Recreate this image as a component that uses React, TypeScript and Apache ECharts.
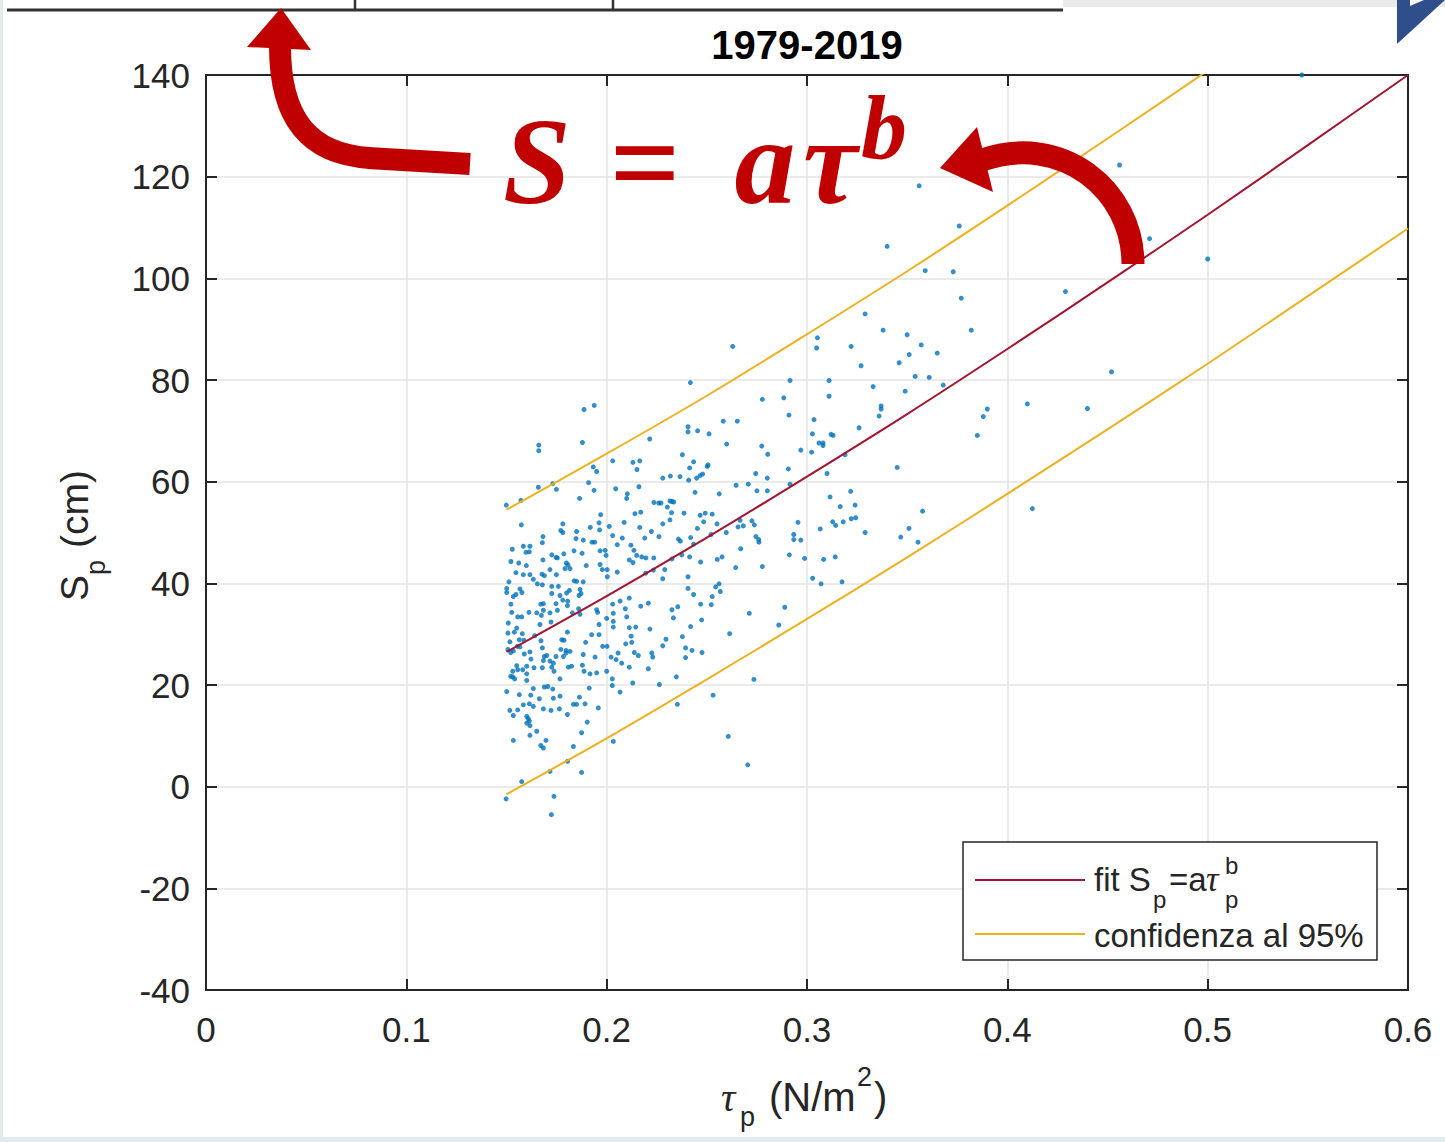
import React, { useEffect, useRef } from "react";
import * as echarts from "echarts";

// ---------- data ----------
const xTickValues = [0, 0.1, 0.2, 0.3, 0.4, 0.5, 0.6];
const yTickValues = [-40, -20, 0, 20, 40, 60, 80, 100, 120, 140];

const fitTau = [0.15, 0.2, 0.25, 0.3, 0.35, 0.4, 0.45, 0.5, 0.55, 0.6];
const fitS = [26.5, 37.5, 49.0, 61.0, 73.3, 86.1, 99.2, 112.5, 126.2, 140.0];
const upperS = [54.5, 65.5, 76.9, 89.0, 101.4, 114.3, 127.5, 140.9, 155.2, 169.5];
const lowerS = [-1.5, 9.5, 21.1, 33.0, 45.1, 57.6, 70.3, 83.2, 96.5, 109.8];

const observations: [number, number][] = [
  [0.547, 140.0],
  [0.456, 122.3], [0.356, 118.2], [0.376, 110.3], [0.340, 106.3], [0.471, 107.8], [0.500, 103.8],
  [0.359, 101.5], [0.373, 101.3], [0.429, 97.4], [0.377, 96.1], [0.329, 93.0], [0.338, 89.8],
  [0.350, 88.9], [0.382, 89.8], [0.322, 86.6], [0.357, 86.9], [0.365, 85.3], [0.351, 85.0],
  [0.346, 83.4], [0.327, 82.8], [0.354, 80.7], [0.361, 80.5], [0.311, 79.9], [0.452, 81.6],
  [0.333, 78.7], [0.368, 79.0], [0.349, 77.8], [0.311, 76.8], [0.337, 74.9], [0.337, 74.3],
  [0.336, 72.9], [0.390, 74.3], [0.388, 72.8], [0.410, 75.3], [0.440, 74.4], [0.326, 70.6],
  [0.312, 69.3], [0.313, 69.1], [0.385, 69.1], [0.308, 67.6], [0.308, 67.1], [0.319, 65.3],
  [0.345, 62.8], [0.310, 61.6],
  [0.3577, 54.2], [0.3509, 50.8], [0.3468, 49.1], [0.3554, 48.1], [0.4125, 54.7],
  [0.2629, 86.6], [0.3052, 88.3], [0.3048, 86.3], [0.2418, 79.5], [0.2915, 79.9],
  [0.2777, 76.2], [0.2884, 76.5], [0.2910, 73.1], [0.2582, 71.9], [0.2652, 71.9], [0.3035, 72.2],
  [0.2406, 70.8], [0.2406, 69.8], [0.2454, 70.0], [0.2511, 69.4], [0.3027, 69.4],
  [0.3060, 67.6], [0.2599, 67.4], [0.2774, 67.0], [0.2378, 65.3], [0.2804, 65.4], [0.2969, 66.2],
  [0.3023, 65.8], [0.2434, 63.9], [0.2506, 63.3], [0.2502, 63.0], [0.2414, 62.7], [0.2907, 62.5],
  [0.2479, 61.5], [0.2466, 61.2], [0.2449, 60.7], [0.2409, 60.3], [0.2318, 61.1], [0.2366, 61.0],
  [0.2280, 60.7], [0.2744, 61.6], [0.2802, 60.7], [0.2646, 59.3], [0.2707, 59.5], [0.2915, 59.5],
  [0.2562, 57.6], [0.2750, 58.2], [0.2802, 58.2], [0.2441, 57.9], [0.3218, 58.1], [0.3115, 57.0],
  [0.2316, 56.2], [0.2326, 56.1], [0.2335, 56.0], [0.2303, 55.0], [0.2271, 55.8],
  [0.2324, 53.9], [0.2386, 53.8], [0.2280, 51.7], [0.2316, 52.5], [0.2467, 53.4], [0.2492, 53.8],
  [0.2527, 53.6], [0.2484, 52.1], [0.2551, 51.7], [0.2666, 52.4], [0.2656, 51.1], [0.2682, 51.3],
  [0.2725, 52.3], [0.2737, 51.5], [0.2453, 50.8], [0.2521, 49.6], [0.2597, 50.0], [0.2745, 49.2],
  [0.2759, 48.6], [0.2760, 48.1], [0.2358, 48.7], [0.2368, 48.3], [0.2419, 49.0], [0.2434, 47.7],
  [0.2955, 52.0], [0.2934, 49.6], [0.2934, 48.6], [0.2969, 48.5], [0.2912, 45.6], [0.2988, 44.9],
  [0.3166, 55.1], [0.3240, 55.4], [0.3128, 52.1], [0.3143, 51.4], [0.3181, 52.1], [0.3221, 52.7],
  [0.3243, 52.9], [0.3066, 50.7], [0.3290, 50.0],
  [0.2326, 44.8], [0.2375, 45.6], [0.2414, 45.2], [0.2469, 44.2], [0.2552, 44.7], [0.2576, 45.2],
  [0.2669, 46.8], [0.2644, 43.1], [0.2777, 43.3], [0.3083, 44.7], [0.3141, 45.2],
  [0.2280, 40.9], [0.2290, 42.7], [0.2406, 41.3], [0.3028, 41.0], [0.3070, 39.9], [0.3175, 40.3],
  [0.2406, 39.0], [0.2434, 37.8], [0.2544, 39.3], [0.2561, 39.9], [0.2567, 38.4], [0.2527, 37.4],
  [0.2522, 35.8], [0.2469, 35.9], [0.2474, 32.8], [0.2419, 31.5], [0.2326, 34.8], [0.2355, 35.4],
  [0.2333, 33.2], [0.2712, 34.1], [0.2889, 35.3], [0.2859, 31.8], [0.2614, 30.1], [0.2378, 29.5],
  [0.2296, 29.0], [0.2280, 27.7], [0.2394, 27.3], [0.2426, 26.8], [0.2476, 26.4], [0.2394, 25.4],
  [0.2348, 21.6], [0.2735, 21.1],
  [0.2531, 18.0], [0.2353, 16.2], [0.2607, 9.9], [0.2704, 4.3],
  [0.1887, 74.2], [0.1938, 75.0], [0.1661, 67.2], [0.1661, 66.1], [0.1879, 67.7], [0.2215, 68.4],
  [0.1933, 62.9], [0.1950, 62.0], [0.2030, 64.1], [0.2131, 63.8], [0.2165, 64.1], [0.2151, 62.4],
  [0.1731, 59.6], [0.1659, 58.9], [0.1749, 58.5], [0.1910, 59.8], [0.1937, 58.3], [0.2045, 58.6],
  [0.2161, 59.0], [0.1499, 55.4], [0.1572, 56.3], [0.1865, 56.7], [0.2103, 57.6], [0.2100, 56.7],
  [0.2236, 55.9], [0.2260, 55.8], [0.1970, 53.5], [0.2141, 53.7], [0.2170, 54.0],
  [0.1574, 51.5], [0.1781, 51.7], [0.1962, 51.9], [0.2013, 51.2], [0.2087, 52.0],
  [0.1771, 50.4], [0.1781, 50.0], [0.1850, 50.2], [0.1918, 51.0], [0.1965, 50.5], [0.2165, 51.0],
  [0.2223, 50.2], [0.1682, 49.2], [0.1679, 48.0], [0.1847, 48.8], [0.1883, 48.5], [0.1927, 48.1],
  [0.1940, 48.1], [0.2030, 49.4], [0.2078, 48.9], [0.2053, 47.6], [0.2121, 47.5], [0.2190, 48.9],
  [0.2261, 49.2], [0.1529, 46.7], [0.1584, 47.3], [0.1597, 46.1], [0.1617, 47.3], [0.1614, 46.2],
  [0.1726, 45.6], [0.1747, 45.1], [0.1786, 45.8], [0.1837, 46.4], [0.1877, 45.9], [0.1967, 46.4],
  [0.1992, 46.5], [0.1997, 45.5], [0.2136, 46.5], [0.2150, 45.5], [0.2175, 45.2], [0.2196, 45.0],
  [0.2235, 45.0], [0.2113, 44.6], [0.2131, 44.1], [0.1522, 44.3], [0.1561, 44.0], [0.1599, 43.5],
  [0.1682, 44.6], [0.1717, 42.7], [0.1754, 45.0], [0.1799, 44.0], [0.1807, 43.6], [0.1792, 42.9],
  [0.1817, 42.9], [0.1898, 43.5], [0.1967, 43.7], [0.1978, 42.7], [0.2002, 42.7],
  [0.1547, 42.1], [0.1584, 41.7], [0.1617, 41.7], [0.1677, 41.8], [0.1689, 41.5], [0.1749, 41.7],
  [0.1634, 40.8], [0.2003, 41.3], [0.2053, 42.2], [0.2195, 42.0], [0.2233, 42.6],
  [0.1512, 40.3], [0.1501, 39.0], [0.1501, 38.2], [0.1567, 38.9], [0.1577, 38.2], [0.1534, 37.4],
  [0.1547, 37.8], [0.1654, 39.9], [0.1679, 39.7], [0.1726, 39.4], [0.1759, 39.4], [0.1726, 38.0],
  [0.1767, 37.6], [0.1800, 38.1], [0.1814, 38.6], [0.1838, 40.5], [0.1850, 40.4], [0.1867, 38.8],
  [0.1872, 38.0], [0.1862, 37.6], [0.1883, 40.3],
  [0.1671, 35.9], [0.1684, 36.0], [0.1747, 36.0], [0.1781, 36.7], [0.1805, 36.5], [0.1522, 35.9],
  [0.1526, 34.3], [0.1576, 33.4], [0.1556, 33.4], [0.1612, 34.3], [0.1651, 34.2], [0.1674, 33.7],
  [0.1684, 34.7], [0.1717, 34.2], [0.1754, 34.7], [0.1804, 35.6], [0.1829, 34.2], [0.1860, 35.0],
  [0.1867, 33.9], [0.1950, 34.8], [0.1955, 34.3], [0.1962, 31.9], [0.2000, 33.1], [0.2030, 35.9],
  [0.2033, 34.1], [0.2033, 32.5], [0.2033, 31.4], [0.2067, 36.5], [0.2093, 35.0], [0.2100, 33.4],
  [0.2113, 37.1], [0.2170, 35.5], [0.2208, 36.1],
  [0.1509, 32.2], [0.1507, 30.2], [0.1517, 28.5], [0.1507, 27.0], [0.1521, 26.4], [0.1534, 26.7],
  [0.1551, 31.2], [0.1539, 30.4], [0.1564, 28.9], [0.1554, 27.6], [0.1567, 27.5], [0.1579, 30.1],
  [0.1587, 28.8], [0.1589, 26.1], [0.1617, 26.5], [0.1622, 25.1], [0.1637, 23.4], [0.1641, 29.7],
  [0.1672, 28.7], [0.1679, 27.3], [0.1689, 25.6], [0.1684, 24.8], [0.1679, 23.4], [0.1701, 25.8],
  [0.1717, 24.7], [0.1726, 23.5], [0.1734, 24.3], [0.1747, 25.6], [0.1737, 22.7], [0.1767, 21.2],
  [0.1776, 28.9], [0.1787, 28.8], [0.1797, 26.8], [0.1797, 26.3], [0.1804, 30.4], [0.1817, 26.6],
  [0.1825, 23.7], [0.1809, 23.5], [0.1784, 25.6], [0.1771, 27.0], [0.1667, 31.9], [0.1722, 32.4],
  [0.1601, 23.7], [0.1581, 23.0], [0.1601, 22.2], [0.1601, 20.9], [0.1531, 22.7], [0.1521, 21.7],
  [0.1531, 21.6], [0.1541, 21.2], [0.1551, 23.8], [0.1556, 23.0],
  [0.1883, 26.0], [0.1887, 22.7], [0.1917, 22.2], [0.1942, 25.5], [0.1950, 22.4], [0.1879, 23.9],
  [0.1913, 19.4], [0.1895, 28.4], [0.1925, 29.9], [0.1962, 29.9], [0.1980, 27.6], [0.2002, 27.6],
  [0.2022, 25.5], [0.2047, 25.0], [0.2000, 22.7], [0.2028, 21.2], [0.2028, 19.9], [0.2067, 18.6],
  [0.2057, 26.3], [0.2075, 24.3], [0.2095, 28.1], [0.2113, 23.5], [0.2125, 28.4], [0.2122, 29.6],
  [0.2113, 31.3], [0.2145, 31.4], [0.2138, 26.4], [0.2158, 25.8], [0.2130, 20.4], [0.2208, 23.2],
  [0.2216, 31.0], [0.2225, 26.3], [0.2230, 25.5], [0.2263, 20.1],
  [0.1501, 18.7], [0.1564, 18.1], [0.1621, 18.0], [0.1634, 19.3], [0.1689, 19.6], [0.1706, 19.7],
  [0.1664, 17.3], [0.1731, 19.2], [0.1767, 17.8], [0.1734, 17.4], [0.1584, 16.1], [0.1614, 16.3],
  [0.1634, 15.8], [0.1684, 15.3], [0.1722, 15.0], [0.1764, 15.3], [0.1804, 14.2], [0.1834, 16.2],
  [0.1850, 16.2], [0.1864, 17.6], [0.1892, 16.3], [0.1958, 15.5],
  [0.1517, 15.0], [0.1534, 14.0], [0.1556, 15.1], [0.1601, 13.8], [0.1609, 13.4], [0.1614, 12.9],
  [0.1601, 12.5], [0.1617, 12.0], [0.1651, 10.9], [0.1617, 10.1], [0.1534, 9.1], [0.1671, 8.1],
  [0.1684, 7.6], [0.1697, 9.1], [0.1903, 12.7], [0.1875, 10.6], [0.1834, 7.9], [0.2033, 8.9],
  [0.1805, 5.0], [0.1717, 3.0], [0.1875, 2.8], [0.1576, 1.0], [0.1498, -2.4], [0.1737, -1.9],
  [0.1724, -5.5],
];

const titleText = "1979-2019";
const legendFitLabel = "fit S";
const legendConfLabel = "confidenza al 95%";

// ---------- styles ----------
const AX = "#262626";
const SANS = "'Liberation Sans', Arial, Helvetica, sans-serif";
const SERIF = "'Liberation Serif', 'Times New Roman', serif";
const RED = "#C00000";
const FIT = "#A2142F";
const CONF = "#EDB120";
const DOT = "#0072BD";

const sans = (size: number, extra = "") => `${extra} ${size}px ${SANS}`.trim();

function buildOption(): any {
  const fitData = fitTau.map((t, i) => [t, fitS[i]]);
  const upData = fitTau.map((t, i) => [t, upperS[i]]);
  const loData = fitTau.map((t, i) => [t, lowerS[i]]);
  const axisCommon = {
    type: "value",
    axisLine: { show: true, onZero: false, lineStyle: { color: AX, width: 2 } },
    axisTick: { show: true, inside: true, length: 11, lineStyle: { color: AX, width: 2 } },
  };
  const xMin = xTickValues[0];
  const xMax = xTickValues[xTickValues.length - 1];
  const yMin = yTickValues[0];
  const yMax = yTickValues[yTickValues.length - 1];

  const txt = (x: number, y: number, text: string, font: string, fill = AX, align = "left", z = 50) => ({
    type: "text",
    x,
    y,
    z,
    style: { text, font, fill, align, verticalAlign: "middle" },
  });

  const graphics: any[] = [
    // page furniture
    { type: "rect", shape: { x: 0, y: 0, width: 3, height: 1142 }, style: { fill: "#e6ebe9" }, z: 1 },
    { type: "rect", shape: { x: 0, y: 1137, width: 1445, height: 5 }, style: { fill: "#e3eaee" }, z: 1 },
    { type: "rect", shape: { x: 1063, y: 0, width: 382, height: 7 }, style: { fill: "#e9ebe7" }, z: 1 },
    { type: "line", shape: { x1: 7, y1: 10, x2: 1063, y2: 10 }, style: { stroke: "#333", lineWidth: 3 }, z: 2 },
    { type: "line", shape: { x1: 355, y1: 0, x2: 355, y2: 10 }, style: { stroke: "#333", lineWidth: 2.5 }, z: 2 },
    { type: "line", shape: { x1: 613, y1: 0, x2: 613, y2: 10 }, style: { stroke: "#333", lineWidth: 2.5 }, z: 2 },
    { type: "polygon", shape: { points: [[1397, 0], [1445, 0], [1397, 44]] }, style: { fill: "#2e4f8c" }, z: 2 },
    { type: "polygon", shape: { points: [[1410, 0], [1424, 0], [1410, 6]] }, style: { fill: "#ffffff" }, z: 3 },
    // title
    txt(807, 45, titleText, sans(40, "bold"), "#000", "center"),
    // y axis name
    {
      type: "group",
      x: 74,
      y: 601,
      rotation: Math.PI / 2,
      children: [
        { type: "text", x: 0, y: 0, style: { text: "S", font: sans(39), fill: AX, align: "left", verticalAlign: "middle" } },
        { type: "text", x: 26, y: 22, style: { text: "p", font: sans(27), fill: AX, align: "left", verticalAlign: "middle" } },
        { type: "text", x: 53, y: 0, style: { text: "(cm)", font: sans(39), fill: AX, align: "left", verticalAlign: "middle" } },
      ],
    },
    // x axis name
    txt(721, 1097, "τ", `italic 40px ${SERIF}`),
    txt(740, 1117, "p", sans(27)),
    txt(769, 1097, "(N/m", sans(40)),
    txt(857, 1077, "2", sans(27)),
    txt(874, 1097, ")", sans(40)),
    // legend
    { type: "rect", z: 60, shape: { x: 963, y: 842, width: 414, height: 118 }, style: { fill: "#fff", stroke: AX, lineWidth: 1.5 } },
    { type: "line", z: 61, shape: { x1: 975, y1: 880, x2: 1085, y2: 880 }, style: { stroke: FIT, lineWidth: 2 } },
    { type: "line", z: 61, shape: { x1: 975, y1: 934, x2: 1085, y2: 934 }, style: { stroke: CONF, lineWidth: 2 } },
    txt(1094, 879, legendFitLabel, sans(33), AX, "left", 62),
    txt(1153, 899, "p", sans(24), AX, "left", 62),
    txt(1169, 879, "=a", sans(33), AX, "left", 62),
    txt(1206, 879, "τ", `italic 35px ${SERIF}`, AX, "left", 62),
    txt(1225, 865, "b", sans(24), AX, "left", 62),
    txt(1225, 899, "p", sans(24), AX, "left", 62),
    txt(1094, 935, legendConfLabel, sans(33), AX, "left", 62),
    // formula annotation
    txt(537, 161, "S", `italic bold 122px ${SERIF}`, RED, "center", 80),
    txt(645, 163, "=", `bold 124px ${SERIF}`, RED, "center", 80),
    txt(765, 161, "a", `italic bold 122px ${SERIF}`, RED, "center", 80),
    txt(830, 161, "τ", `italic bold 122px ${SERIF}`, RED, "center", 80),
    txt(884, 127, "b", `italic bold 92px ${SERIF}`, RED, "center", 80),
    // left arrow
    { type: "line", z: 80, shape: { x1: 470, y1: 164, x2: 368, y2: 158 }, style: { stroke: RED, lineWidth: 22 } },
    {
      type: "bezierCurve",
      z: 80,
      shape: { x1: 370, y1: 158, cpx1: 308, cpy1: 154, cpx2: 280, cpy2: 118, x2: 280, y2: 46 },
      style: { stroke: RED, lineWidth: 22, fill: "none" },
    },
    { type: "polygon", z: 81, shape: { points: [[281, 8], [247, 47], [311, 50]] }, style: { fill: RED } },
    // right arrow
    {
      type: "bezierCurve",
      z: 80,
      shape: { x1: 1133, y1: 264, cpx1: 1133, cpy1: 190, cpx2: 1062, cpy2: 132, x2: 982, y2: 160 },
      style: { stroke: RED, lineWidth: 23, fill: "none" },
    },
    { type: "polygon", z: 81, shape: { points: [[940, 168], [977, 127], [993, 192]] }, style: { fill: RED } },
  ];

  return {
    animation: false,
    backgroundColor: "#ffffff",
    grid: { left: 206, top: 75, width: 1202, height: 915, containLabel: false },
    xAxis: [
      {
        ...axisCommon,
        position: "bottom",
        min: xMin,
        max: xMax,
        interval: 0.1,
        axisLabel: {
          color: AX,
          fontSize: 35,
          fontFamily: SANS,
          margin: 22,
          formatter: (v: number) => (v === 0 ? "0" : v.toFixed(1)),
        },
        splitLine: { show: true, lineStyle: { color: "#e3e3e3", width: 1.5 } },
      },
      {
        ...axisCommon,
        position: "top",
        min: xMin,
        max: xMax,
        interval: 0.1,
        axisLabel: { show: false },
        splitLine: { show: false },
      },
    ],
    yAxis: [
      {
        ...axisCommon,
        position: "left",
        min: yMin,
        max: yMax,
        interval: 20,
        axisLabel: { color: AX, fontSize: 35, fontFamily: SANS, margin: 16 },
        splitLine: { show: true, lineStyle: { color: "#e3e3e3", width: 1.5 } },
      },
      {
        ...axisCommon,
        position: "right",
        min: yMin,
        max: yMax,
        interval: 20,
        axisLabel: { show: false },
        splitLine: { show: false },
      },
    ],
    series: [
      {
        type: "scatter",
        xAxisIndex: 0,
        yAxisIndex: 0,
        data: observations,
        symbol: "circle",
        symbolSize: 5,
        itemStyle: { color: DOT },
        silent: true,
        z: 3,
      },
      {
        type: "line",
        xAxisIndex: 0,
        yAxisIndex: 0,
        data: upData,
        showSymbol: false,
        smooth: 0.3,
        clip: true,
        lineStyle: { color: CONF, width: 2 },
        z: 4,
      },
      {
        type: "line",
        xAxisIndex: 0,
        yAxisIndex: 0,
        data: loData,
        showSymbol: false,
        smooth: 0.3,
        clip: true,
        lineStyle: { color: CONF, width: 2 },
        z: 4,
      },
      {
        type: "line",
        xAxisIndex: 0,
        yAxisIndex: 0,
        data: fitData,
        showSymbol: false,
        smooth: 0.3,
        clip: true,
        lineStyle: { color: FIT, width: 2 },
        z: 5,
      },
    ],
    graphic: graphics,
  };
}

export default function App() {
  const ref = useRef<HTMLDivElement>(null);
  useEffect(() => {
    if (!ref.current) return;
    const chart = echarts.init(ref.current, undefined, { renderer: "svg" });
    chart.setOption(buildOption());
    return () => chart.dispose();
  }, []);
  return (
    <div
      ref={ref}
      style={{ position: "fixed", left: 0, top: 0, width: 1445, height: 1142, background: "#fff" }}
    />
  );
}
